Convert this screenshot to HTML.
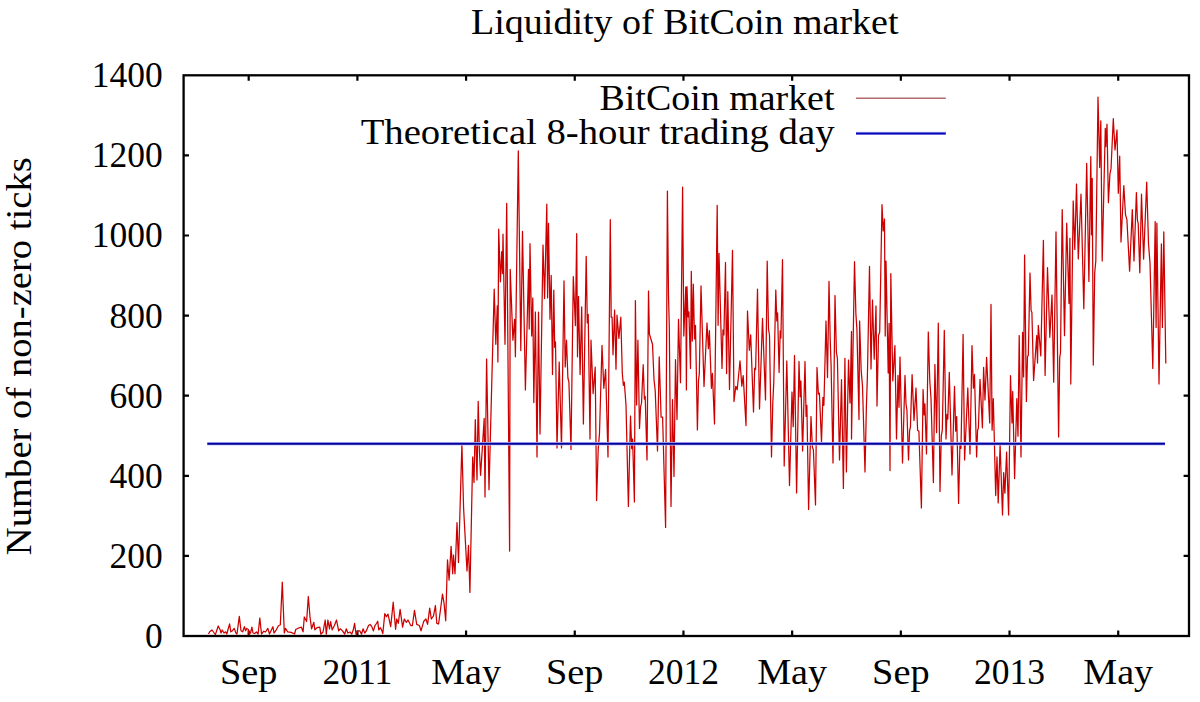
<!DOCTYPE html><html><head><meta charset="utf-8"><style>html,body{margin:0;padding:0;background:#fff;}svg{display:block;}text{font-family:"Liberation Serif",serif;fill:#000;}</style></head><body>
<svg width="1200" height="702" viewBox="0 0 1200 702">
<rect width="1200" height="702" fill="#fff"/>
<rect x="183.6" y="75.3" width="1005.4" height="560.7" fill="none" stroke="#000" stroke-width="2.3"/>
<path d="M183.6,555.90h5.4M1189.0,555.90h-5.4M183.6,475.80h5.4M1189.0,475.80h-5.4M183.6,395.70h5.4M1189.0,395.70h-5.4M183.6,315.60h5.4M1189.0,315.60h-5.4M183.6,235.50h5.4M1189.0,235.50h-5.4M183.6,155.40h5.4M1189.0,155.40h-5.4M248.70,636.0v-5.4M248.70,75.3v5.4M357.39,636.0v-5.4M357.39,75.3v5.4M466.08,636.0v-5.4M466.08,75.3v5.4M574.77,636.0v-5.4M574.77,75.3v5.4M683.46,636.0v-5.4M683.46,75.3v5.4M792.15,636.0v-5.4M792.15,75.3v5.4M900.84,636.0v-5.4M900.84,75.3v5.4M1009.53,636.0v-5.4M1009.53,75.3v5.4M1118.22,636.0v-5.4M1118.22,75.3v5.4" stroke="#000" stroke-width="2.2" fill="none"/>
<path d="M208.5,634.0 209.7,631.8 212.0,630.0 214.2,633.0 215.4,634.6 218.2,626.0 220.0,629.5 221.0,633.0 222.2,630.0 224.0,633.0 225.6,631.8 226.8,634.0 228.0,629.5 229.6,623.8 230.8,631.8 232.5,630.7 234.2,628.4 235.9,633.0 237.0,634.0 239.3,616.4 241.0,630.7 242.7,631.8 244.4,626.7 245.6,630.7 246.7,628.4 248.4,629.5 249.0,634.6 250.5,633.0 251.9,627.2 253.0,633.0 254.7,633.5 256.5,632.0 258.1,634.0 259.8,618.0 261.5,634.0 263.8,631.2 265.5,632.0 267.8,628.4 269.5,634.0 272.9,626.7 274.0,633.0 275.8,630.7 278.6,625.5 280.3,625.0 282.3,582.2 284.3,633.0 285.5,628.4 287.7,631.8 291.2,632.4 294.6,634.0 295.7,629.5 299.1,627.8 301.4,627.2 303.1,631.8 304.3,617.0 306.6,621.5 308.3,596.5 310.0,617.0 311.6,628.8 313.8,622.3 314.9,629.8 317.0,627.7 319.8,627.1 320.8,634.2 323.0,632.0 325.2,620.0 326.3,634.2 327.9,620.0 329.5,628.8 330.6,621.7 332.2,629.8 334.4,625.5 336.5,620.0 338.7,630.9 340.3,628.8 342.5,630.9 344.7,634.2 346.3,628.8 347.9,633.0 350.1,632.0 351.7,634.2 353.3,629.8 354.6,623.3 356.0,634.2 357.7,630.9 359.8,630.9 361.5,634.2 363.1,628.8 364.7,633.0 366.3,630.9 368.5,625.5 370.1,624.4 371.8,626.6 373.4,630.9 375.0,625.5 376.6,623.3 377.7,621.2 378.8,629.8 380.4,627.7 382.0,630.9 382.8,633.6 384.8,613.6 386.4,616.8 388.0,614.1 390.7,626.6 393.2,602.2 395.6,629.3 396.7,619.0 398.3,623.3 400.1,609.3 402.6,627.1 404.3,619.0 406.4,622.3 408.0,620.0 410.8,625.5 412.4,625.5 414.5,610.3 416.7,624.4 419.4,625.5 421.0,630.9 423.8,621.2 425.9,619.0 427.6,624.4 429.7,608.2 431.3,619.0 433.5,615.8 435.4,605.5 436.8,623.3 438.6,624.0 442.5,594.2 444.1,603.6 445.7,620.8 447.5,559.8 449.1,580.1 451.1,546.4 452.7,573.8 453.5,555.0 455.0,573.8 457.0,522.6 458.5,562.5 461.9,444.3 463.6,508.4 467.0,571.0 468.5,545.4 469.9,592.4 472.7,457.0 474.0,482.5 475.3,419.6 477.0,480.0 478.2,401.4 479.4,451.0 480.6,475.3 484.2,418.4 485.0,497.0 486.6,359.0 489.0,489.8 494.2,289.1 495.8,344.3 497.3,305.8 497.9,362.0 498.7,229.2 500.4,281.8 501.7,251.7 502.5,273.5 503.0,234.2 505.0,344.3 506.7,203.3 509.6,551.0 510.2,269.3 512.9,340.2 514.6,319.3 515.4,356.8 518.3,150.8 520.8,350.6 522.5,231.3 525.4,390.0 528.5,269.3 529.2,329.1 530.0,243.7 531.7,336.0 532.8,298.0 533.8,402.6 535.4,312.0 537.0,457.0 538.5,312.1 540.0,434.0 543.0,245.0 544.6,298.5 546.8,204.2 547.6,297.9 548.5,223.3 550.0,319.3 551.2,275.4 552.5,374.5 553.8,290.2 554.7,347.3 555.5,341.9 557.0,448.0 559.2,362.0 561.5,448.0 564.0,280.8 565.2,366.9 566.5,340.2 567.9,378.0 568.9,381.8 571.0,449.5 573.3,276.6 575.4,325.6 576.7,233.7 577.5,356.8 578.5,296.4 580.1,374.6 581.7,306.8 583.4,424.0 586.2,256.3 587.3,322.9 588.2,314.3 590.0,439.0 591.0,340.2 593.1,393.6 595.2,367.2 596.6,500.5 598.2,449.4 599.5,433.1 602.0,345.4 603.8,388.3 605.6,369.3 608.0,457.0 610.3,219.7 611.2,317.2 612.1,317.2 613.0,354.8 614.6,310.0 616.0,369.3 617.0,315.2 618.9,338.4 620.8,317.2 622.3,373.5 623.4,385.4 624.3,382.1 626.0,405.0 628.4,506.5 630.5,416.0 631.7,448.6 632.6,439.0 634.4,502.0 635.4,300.6 636.6,405.0 637.9,340.2 639.5,428.5 640.6,406.7 641.5,403.4 643.2,364.7 644.4,399.1 645.2,396.4 647.0,460.0 648.5,291.0 649.4,334.0 652.5,344.3 654.0,379.5 655.2,390.5 657.5,451.0 659.2,356.8 661.1,417.2 662.6,417.1 665.6,527.5 667.4,191.0 668.5,295.7 669.3,325.9 671.0,506.5 672.5,399.6 674.0,476.5 675.5,359.7 677.0,419.5 678.5,319.3 680.5,382.7 682.6,187.2 683.8,336.0 685.8,287.0 686.4,389.9 687.0,286.7 688.0,316.8 688.9,311.8 690.5,368.5 691.3,271.3 692.3,341.1 693.3,284.2 694.5,338.9 695.5,325.4 697.4,430.0 698.5,380.5 699.3,373.9 701.0,285.8 704.0,386.5 707.0,323.0 708.4,348.6 709.4,330.7 711.4,388.3 712.4,373.3 714.5,424.0 717.2,205.3 718.1,325.3 719.0,253.3 722.0,368.5 723.0,329.8 723.9,334.9 725.5,262.5 726.6,373.6 727.8,291.7 729.5,389.5 732.5,250.3 734.0,401.5 735.8,386.3 737.2,389.8 740.0,360.8 741.8,386.1 743.2,375.6 746.0,425.5 747.5,311.0 749.3,350.3 750.7,334.8 753.5,412.0 754.7,368.2 755.6,369.7 757.5,289.2 759.5,409.0 762.5,318.4 765.5,400.0 767.2,261.2 768.5,329.1 769.5,335.0 771.5,457.0 772.8,402.8 773.8,381.6 775.8,290.0 776.8,321.0 777.6,312.9 779.1,372.4 780.2,330.9 780.9,338.0 782.5,259.7 784.2,466.0 786.8,361.0 789.5,485.5 792.0,392.0 793.2,426.7 794.5,355.5 796.6,493.0 799.0,361.5 800.1,396.8 800.9,381.0 802.6,451.0 805.0,361.5 806.1,416.4 806.9,405.4 808.6,509.5 811.0,416.5 812.4,447.3 813.4,449.7 815.5,505.0 817.0,367.5 818.4,394.1 819.4,393.2 821.5,442.0 822.9,397.3 823.9,405.3 826.0,321.0 827.5,377.6 829.0,281.4 830.2,339.7 831.1,365.6 833.0,463.0 835.0,295.5 836.4,352.3 837.4,358.3 839.5,460.0 841.5,379.6 843.4,488.5 844.9,358.3 846.4,472.0 848.5,360.0 850.0,403.1 851.5,331.5 851.5,439.0 854.5,261.6 855.9,314.0 856.9,329.1 859.0,419.5 859.6,321.0 861.2,370.9 862.5,386.3 865.0,472.0 866.4,406.2 867.4,376.0 869.5,266.4 871.0,369.0 872.5,300.0 874.2,359.2 876.0,306.0 877.0,406.0 878.5,335.5 879.7,332.1 882.0,204.6 883.2,231.0 884.5,219.0 885.2,336.0 886.0,261.0 888.2,373.0 889.1,323.4 890.0,470.5 890.8,273.6 892.8,380.9 894.9,345.6 896.5,439.0 898.0,375.4 899.0,407.3 900.0,357.0 902.5,463.0 905.0,375.4 906.0,404.0 906.9,409.9 908.5,460.0 909.6,430.5 910.4,427.4 912.1,374.6 914.0,420.5 916.0,388.0 917.6,430.2 918.9,431.3 921.4,508.0 923.1,389.5 924.1,414.9 924.9,403.8 926.5,454.0 928.3,332.0 929.8,381.4 931.0,398.0 933.4,482.5 934.9,364.5 936.6,432.6 938.3,323.2 940.0,491.5 941.3,435.8 942.3,430.2 944.3,330.4 946.0,439.0 947.0,414.3 947.8,419.0 949.3,372.3 952.0,475.0 954.5,386.4 955.7,431.2 956.7,416.5 958.6,503.5 960.0,442.3 961.0,448.3 963.1,334.4 964.6,460.0 967.8,388.0 970.0,454.0 972.0,345.6 973.4,388.2 974.5,374.4 976.6,457.0 977.6,429.9 978.4,428.2 980.0,379.4 982.4,427.8 983.6,367.3 985.0,400.0 986.6,357.4 989.7,423.0 991.0,304.4 992.1,430.2 993.3,398.7 995.7,495.6 997.0,456.9 998.2,502.9 1000.1,444.7 1002.5,515.0 1003.7,472.6 1004.9,493.2 1006.6,452.0 1008.6,515.0 1010.5,375.7 1012.0,423.0 1012.7,391.5 1014.6,478.6 1016.8,398.7 1018.0,436.2 1019.2,335.5 1021.0,457.0 1022.6,332.3 1023.6,376.9 1024.6,255.0 1026.4,401.5 1027.5,356.2 1028.3,355.5 1030.0,273.0 1031.1,310.7 1031.9,312.2 1033.6,380.5 1036.7,335.5 1037.5,363.1 1038.3,325.3 1040.8,355.9 1043.4,240.3 1045.1,375.4 1047.5,267.7 1049.8,337.3 1052.0,295.0 1053.7,382.2 1056.0,231.8 1058.6,437.0 1059.7,357.8 1060.5,352.5 1062.2,209.6 1064.5,335.7 1066.7,223.2 1069.0,303.6 1069.9,238.3 1070.8,384.0 1073.2,201.0 1074.8,249.4 1076.5,184.0 1078.3,259.0 1081.0,194.2 1083.8,308.7 1086.7,163.3 1088.9,281.4 1090.8,156.7 1091.5,234.8 1092.2,178.3 1093.3,365.1 1094.7,273.1 1095.8,261.0 1098.0,97.2 1099.7,167.5 1100.8,120.8 1102.2,260.9 1105.3,128.3 1105.8,146.7 1107.0,124.2 1108.4,202.7 1109.9,174.2 1111.0,168.9 1113.3,118.7 1115.0,150.0 1117.0,130.0 1118.3,193.3 1119.7,156.2 1121.0,242.0 1123.8,185.6 1125.5,214.7 1126.9,219.6 1129.6,271.1 1132.3,209.6 1134.0,260.9 1136.4,192.5 1137.4,220.2 1138.2,223.3 1139.8,272.8 1141.5,194.2 1143.6,259.1 1146.7,182.2 1148.5,243.7 1150.0,263.0 1152.8,368.5 1155.2,221.5 1156.1,327.5 1156.9,223.2 1159.0,384.0 1161.4,243.8 1162.4,327.5 1163.8,231.8 1165.8,363.4" fill="none" stroke="#cc0000" stroke-width="1.25" stroke-linejoin="round"/>
<line x1="207.3" y1="443.76" x2="1165" y2="443.76" stroke="#c4c4ff" stroke-width="3.6"/>
<line x1="207.3" y1="443.76" x2="1165" y2="443.76" stroke="#00009c" stroke-width="2.0"/>
<text x="162.8" y="647.90" font-size="35.5" text-anchor="end">0</text>
<text x="162.8" y="567.80" font-size="35.5" text-anchor="end">200</text>
<text x="162.8" y="487.70" font-size="35.5" text-anchor="end">400</text>
<text x="162.8" y="407.60" font-size="35.5" text-anchor="end">600</text>
<text x="162.8" y="327.50" font-size="35.5" text-anchor="end">800</text>
<text x="162.8" y="247.40" font-size="35.5" text-anchor="end">1000</text>
<text x="162.8" y="167.30" font-size="35.5" text-anchor="end">1200</text>
<text x="162.8" y="87.20" font-size="35.5" text-anchor="end">1400</text>
<text x="248.70" y="683.7" font-size="35.5" text-anchor="middle" textLength="57.5" lengthAdjust="spacingAndGlyphs">Sep</text>
<text x="357.39" y="683.7" font-size="35.5" text-anchor="middle">2011</text>
<text x="466.08" y="683.7" font-size="35.5" text-anchor="middle" textLength="69.8" lengthAdjust="spacingAndGlyphs">May</text>
<text x="574.77" y="683.7" font-size="35.5" text-anchor="middle" textLength="57.5" lengthAdjust="spacingAndGlyphs">Sep</text>
<text x="683.46" y="683.7" font-size="35.5" text-anchor="middle">2012</text>
<text x="792.15" y="683.7" font-size="35.5" text-anchor="middle" textLength="69.8" lengthAdjust="spacingAndGlyphs">May</text>
<text x="900.84" y="683.7" font-size="35.5" text-anchor="middle" textLength="57.5" lengthAdjust="spacingAndGlyphs">Sep</text>
<text x="1009.53" y="683.7" font-size="35.5" text-anchor="middle">2013</text>
<text x="1118.22" y="683.7" font-size="35.5" text-anchor="middle" textLength="69.8" lengthAdjust="spacingAndGlyphs">May</text>
<text x="684.8" y="34.2" font-size="36" text-anchor="middle" textLength="427.5" lengthAdjust="spacingAndGlyphs">Liquidity of BitCoin market</text>
<text x="834.5" y="109.7" font-size="36" text-anchor="end" textLength="235" lengthAdjust="spacingAndGlyphs">BitCoin market</text>
<text x="834.5" y="144.4" font-size="36" text-anchor="end" textLength="473.8" lengthAdjust="spacingAndGlyphs">Theoretical 8-hour trading day</text>
<line x1="856" y1="98.3" x2="945.8" y2="98.3" stroke="#b46a6a" stroke-width="1.5"/>
<line x1="856" y1="133.4" x2="945.8" y2="133.4" stroke="#c8c8ff" stroke-width="3.4"/><line x1="856" y1="133.4" x2="945.8" y2="133.4" stroke="#0606b8" stroke-width="2.0"/>
<text transform="translate(30.8,356.2) rotate(-90)" x="0" y="0" font-size="36" text-anchor="middle" textLength="398" lengthAdjust="spacingAndGlyphs">Number of non-zero ticks</text>
</svg></body></html>
